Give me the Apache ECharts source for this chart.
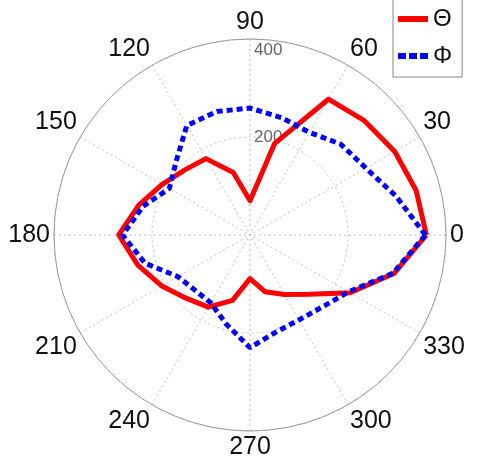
<!DOCTYPE html>
<html><head><meta charset="utf-8">
<script src="https://cdn.jsdelivr.net/npm/echarts@6/dist/echarts.min.js"></script>
<style>html,body{margin:0;padding:0;background:#fff}#c{width:479px;height:468px}</style>
</head><body><div id="c"></div>
<script>
const angles = [0,15,30,45,60,75,90,105,120,135,150,165,180,195,210,225,240,255,270,285,300,315,330,345,360];
const theta = [360,351,341,330,320,193,70,132,180,188,207,235,268,237,208,183,170,138,89,120,140,171,236,304,360];
const phi   = [358,308,273,262,242,248,259,261,258,213,190,226,260,222,170,159,160,188,230,205,200,208,232,302,358];
const angleTicks = [0,30,60,90,120,150,180,210,240,270,300,330];
const radiusTicks = [200,400];
const seriesNames = ['\u0398','\u03A6'];

const font = 'Liberation Sans, Arial, sans-serif';
const chart = echarts.init(document.getElementById('c'), null, {renderer:'canvas'});
const center = [250, 235], radius = 196;
chart.setOption({
  animation:false,
  legend:{
    orient:'vertical', left:393, top:-8,
    padding:[15,10,9,5], itemGap:13, itemWidth:30, itemHeight:6,
    borderColor:'#888', borderWidth:1, backgroundColor:'#fff',
    textStyle:{fontFamily:font, fontSize:24, color:'#111'},
    data: [
      {name:seriesNames[0], icon:'rect', itemStyle:{color:'#ff0000'}},
      {name:seriesNames[1], icon:'path://M0,0h8v6h-8z M11,0h8v6h-8z M22,0h8v6h-8z', itemStyle:{color:'#0000ff'}}
    ]
  },
  polar:[{center:center, radius:radius},{center:center, radius:radius}],
  angleAxis:[{
    polarIndex:0, type:'value', min:0, max:360, interval:30, startAngle:0, clockwise:false,
    axisLine:{show:true, lineStyle:{color:'#9a9a9a', width:1}},
    axisTick:{show:false},
    axisLabel:{margin:4, fontFamily:font, fontSize:25, color:'#111',
      formatter:v => angleTicks.indexOf(v) >= 0 ? String(v) : ''},
    splitLine:{show:true, lineStyle:{color:'#bdbdbd', type:[2,3], width:1}}
  },{
    polarIndex:1, type:'value', min:0, max:360, startAngle:90, clockwise:false, show:false
  }],
  radiusAxis:[{
    polarIndex:0, min:0, max:400, interval:200,
    axisLine:{show:false}, axisTick:{show:false}, axisLabel:{show:false},
    splitLine:{show:true, lineStyle:{color:'#bdbdbd', type:[2,3], width:1}}
  },{
    polarIndex:1, min:0, max:400, interval:200,
    axisLine:{show:false}, axisTick:{show:false}, splitLine:{show:false},
    axisLabel:{show:true, margin:-4, align:'left', fontFamily:font, fontSize:17, color:'#666',
      rich:{lo:{fontFamily:font, fontSize:17, color:'#666', padding:[22,0,0,0]}},
      formatter:v => v === 400 ? '{lo|400}' : (radiusTicks.indexOf(v) >= 0 ? String(v) : '')}
  }],
  series:[{
    name:seriesNames[0], type:'line', coordinateSystem:'polar', polarIndex:0,
    symbol:'none', z:3,
    lineStyle:{color:'#ff0000', width:5, join:'round'},
    itemStyle:{color:'#ff0000'},
    data: angles.map((a,i)=>[theta[i], a])
  },{
    name:seriesNames[1], type:'line', coordinateSystem:'polar', polarIndex:0,
    symbol:'none', z:4,
    lineStyle:{color:'#0000ff', width:5, type:[6,4], cap:'butt'},
    itemStyle:{color:'#0000ff'},
    data: angles.map((a,i)=>[phi[i], a])
  }]
});
</script></body></html>
